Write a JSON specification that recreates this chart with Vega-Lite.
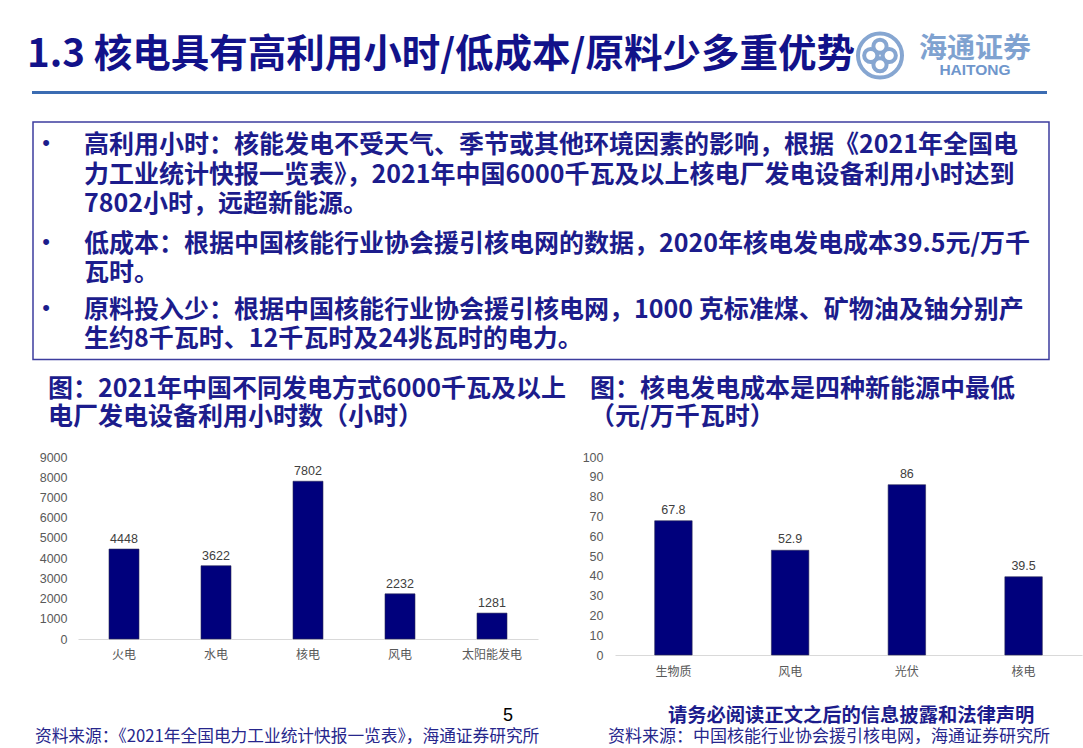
{
  "$schema": "https://vega.github.io/schema/vega-lite/v6.json",
  "autosize": {"type": "none"},
  "padding": {"left": 0, "top": 0, "right": 1083, "bottom": 748},
  "background": "white",
  "spacing": 0,
  "config": {
    "view": {"stroke": null},
    "font": "Noto Sans CJK SC",
    "title": {"anchor": "start", "frame": "group", "orient": "bottom", "baseline": "middle", "font": "Noto Sans CJK SC", "fontWeight": "bold", "color": "#1c1c8c", "limit": 3000, "offset": 0},
    "axis": {"labelFont": "Liberation Sans", "labelColor": "#595959", "ticks": false, "tickSize": 0, "grid": false, "domainColor": "#d9d9d9"},
    "axisY": {"domain": false}
  },
  "vconcat": [
    {
      "spacing": 0, "bounds": "flush",
      "hconcat": [
        {"width": 852, "height": 91, "data": {"values": []}, "mark": "point",
         "title": {"text": "1.3 核电具有高利用小时/低成本/原料少多重优势", "fontSize": 38.5, "dx": 27, "offset": -54.5, "color": "#12128a"}},
        {"width": 56, "height": 91, "data": {"values": [{"brand": "海通证券"}]},
         "mark": {"type": "point", "shape": "M 1 0 A 1 1 0 1 1 -1 0 A 1 1 0 1 1 1 0 Z M 0.72 0 A 0.3 0.3 0 1 1 0.12 0 A 0.3 0.3 0 1 1 0.72 0 Z M -0.12 0 A 0.3 0.3 0 1 1 -0.72 0 A 0.3 0.3 0 1 1 -0.12 0 Z M 0.3 0.42 A 0.3 0.3 0 1 1 -0.3 0.42 A 0.3 0.3 0 1 1 0.3 0.42 Z M 0.3 -0.42 A 0.3 0.3 0 1 1 -0.3 -0.42 A 0.3 0.3 0 1 1 0.3 -0.42 Z", "size": 1936, "filled": false, "stroke": "#86a6d1", "strokeWidth": 4, "opacity": 1, "yOffset": 10}},
        {"width": 134, "height": 91, "data": {"values": []}, "mark": "point",
         "title": {"text": "海通证券", "subtitle": "HAITONG", "anchor": "middle", "fontSize": 28, "color": "#7fa2d0", "subtitleColor": "#6f96cc", "subtitleFont": "Liberation Sans", "subtitleFontWeight": "bold", "subtitleFontSize": 15.5, "subtitlePadding": -1, "offset": -55}}
      ]
    },
    {
      "spacing": 0, "bounds": "flush",
      "hconcat": [
        {"width": 32, "height": 30, "data": {"values": []}, "mark": "point"},
        {"width": 1015, "height": 3, "data": {"values": []}, "mark": "point", "view": {"fill": "#3b6cb2", "stroke": null}}
      ]
    },
    {
      "spacing": 0, "bounds": "flush",
      "hconcat": [
        {"width": 33, "height": 1, "data": {"values": []}, "mark": "point"},
        {
          "width": 1016, "height": 237.5,
          "view": {"stroke": "#3d3d9e", "strokeWidth": 1.5},
          "data": {"values": [
            {"item": 1, "startLine": 0, "text": "高利用小时：核能发电不受天气、季节或其他环境因素的影响，根据《2021年全国电\n力工业统计快报一览表》，2021年中国6000千瓦及以上核电厂发电设备利用小时达到\n7802小时，远超新能源。"},
            {"item": 2, "startLine": 3, "text": "低成本：根据中国核能行业协会援引核电网的数据，2020年核电发电成本39.5元/万千\n瓦时。"},
            {"item": 3, "startLine": 5, "text": "原料投入少：根据中国核能行业协会援引核电网，1000 克标准煤、矿物油及铀分别产\n生约8千瓦时、12千瓦时及24兆瓦时的电力。"}
          ]},
          "encoding": {
            "x": {"datum": 0, "type": "quantitative", "scale": {"domain": [0, 1], "nice": false}, "axis": null},
            "y": {"field": "startLine", "type": "quantitative", "scale": {"domain": [0, 7.2], "nice": false, "reverse": true}, "axis": null}
          },
          "layer": [
            {"mark": {"type": "text", "text": "•", "font": "Liberation Sans", "fontSize": 22, "baseline": "top", "align": "center", "dx": 13, "dy": 11, "color": "#1c1c8c"}},
            {"mark": {"type": "text", "font": "Noto Sans CJK SC", "fontWeight": "bold", "fontSize": 25, "lineHeight": 29.5, "lineBreak": "\n", "baseline": "top", "align": "left", "dx": 51, "dy": 11, "color": "#1c1c8c"},
             "encoding": {"text": {"field": "text", "type": "nominal"}}}
          ]
        }
      ]
    },
    {
      "spacing": 0, "bounds": "flush",
      "hconcat": [
        {"width": 48, "height": 1, "data": {"values": []}, "mark": "point"},
        {"width": 542, "height": 90, "data": {"values": []}, "mark": "point",
         "title": {"text": ["图：2021年中国不同发电方式6000千瓦及以上", "电厂发电设备利用小时数（小时）"], "fontSize": 25, "lineHeight": 28, "baseline": "top", "offset": -74}},
        {"width": 493, "height": 90, "data": {"values": []}, "mark": "point",
         "title": {"text": ["图：核电发电成本是四种新能源中最低", "（元/万千瓦时）"], "fontSize": 25, "lineHeight": 28, "baseline": "top", "offset": -74}}
      ]
    },
    {
      "spacing": 0, "bounds": "flush",
      "hconcat": [
        {"width": 78, "height": 1, "data": {"values": []}, "mark": "point"},
        {
          "width": 460, "height": 182,
          "data": {"values": [
            {"type": "火电", "hours": 4448},
            {"type": "水电", "hours": 3622},
            {"type": "核电", "hours": 7802},
            {"type": "风电", "hours": 2232},
            {"type": "太阳能发电", "hours": 1281}
          ]},
          "encoding": {
            "x": {"field": "type", "type": "nominal", "sort": null, "scale": {"paddingInner": 0.674, "paddingOuter": 0.337},
                  "axis": {"title": null, "labelAngle": 0, "labelPadding": 10, "labelFont": "Noto Sans CJK SC", "labelFontSize": 12, "labelColor": "#595959"}},
            "y": {"field": "hours", "type": "quantitative", "scale": {"domain": [0, 9000], "nice": false},
                  "axis": {"title": null, "values": [0, 1000, 2000, 3000, 4000, 5000, 6000, 7000, 8000, 9000], "format": "d", "labelPadding": 11, "labelFontSize": 12.5}}
          },
          "layer": [
            {"mark": {"type": "bar", "color": "#00007c", "stroke": "#2a2a55", "strokeWidth": 0.6}},
            {"mark": {"type": "text", "baseline": "middle", "dy": -10, "font": "Liberation Sans", "fontSize": 12.5, "color": "#404040"},
             "encoding": {"text": {"field": "hours", "type": "quantitative", "format": "d"}}}
          ]
        },
        {"width": 77, "height": 1, "data": {"values": []}, "mark": "point"},
        {
          "width": 467, "height": 198,
          "data": {"values": [
            {"source": "生物质", "cost": 67.8},
            {"source": "风电", "cost": 52.9},
            {"source": "光伏", "cost": 86},
            {"source": "核电", "cost": 39.5}
          ]},
          "encoding": {
            "x": {"field": "source", "type": "nominal", "sort": null, "scale": {"paddingInner": 0.679, "paddingOuter": 0.34},
                  "axis": {"title": null, "labelAngle": 0, "labelPadding": 11, "labelFont": "Noto Sans CJK SC", "labelFontSize": 12, "labelColor": "#595959"}},
            "y": {"field": "cost", "type": "quantitative", "scale": {"domain": [0, 100], "nice": false},
                  "axis": {"title": null, "values": [0, 10, 20, 30, 40, 50, 60, 70, 80, 90, 100], "format": "d", "labelPadding": 12, "labelFontSize": 12.5}}
          },
          "layer": [
            {"mark": {"type": "bar", "color": "#00007c", "stroke": "#2a2a55", "strokeWidth": 0.6}},
            {"mark": {"type": "text", "baseline": "middle", "dy": -11, "font": "Liberation Sans", "fontSize": 12.5, "color": "#404040"},
             "encoding": {"text": {"field": "cost", "type": "quantitative"}}}
          ]
        }
      ]
    },
    {
      "spacing": 0, "bounds": "flush",
      "hconcat": [
        {"width": 503, "height": 72, "data": {"values": []}, "mark": "point",
         "title": {"text": "资料来源：《2021年全国电力工业统计快报一览表》，海通证券研究所", "fontSize": 16.7, "fontWeight": "normal", "color": "#26268c", "dx": 35, "offset": -20}},
        {"width": 105, "height": 72, "data": {"values": []}, "mark": "point",
         "title": {"text": "5", "font": "Liberation Sans", "fontSize": 18, "fontWeight": "normal", "color": "#000000", "offset": -42}},
        {"width": 60, "height": 72, "data": {"values": []}, "mark": "point",
         "title": {"text": "资料来源：中国核能行业协会援引核电网，海通证券研究所", "fontSize": 17, "fontWeight": "normal", "color": "#26268c", "offset": -20}},
        {"width": 415, "height": 72, "data": {"values": []}, "mark": "point",
         "title": {"text": "请务必阅读正文之后的信息披露和法律声明", "fontSize": 19.3, "fontWeight": "bold", "color": "#1c1c8c", "offset": -42}}
      ]
    }
  ]
}
